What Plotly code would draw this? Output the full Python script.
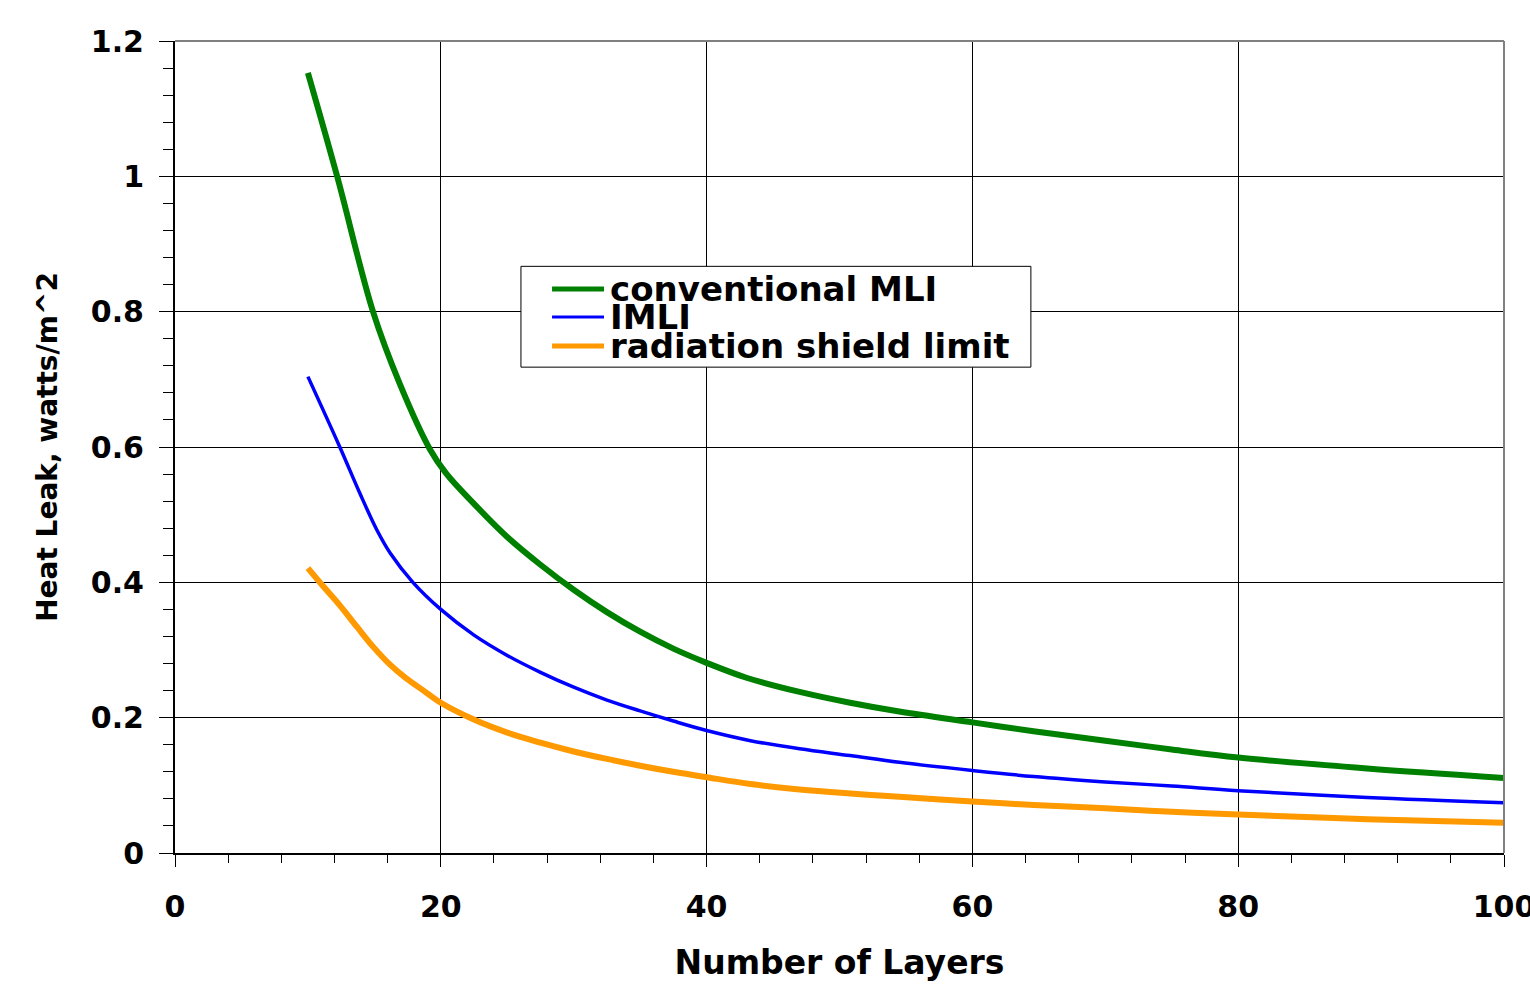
import plotly.graph_objects as go

# ---- data ----
layers_mli = [10, 12.2, 14.9, 16.9, 19.2, 20.4, 22.45, 25, 27.5, 30, 32.5, 35, 37.5, 40, 43, 47,
              50.8, 54.5, 60, 64.6, 70, 75, 80, 89.7, 100]
conventional_mli = [1.153, 1.0, 0.80, 0.694, 0.596, 0.561, 0.517, 0.467, 0.426, 0.389, 0.356, 0.327,
                    0.302, 0.281, 0.259, 0.238, 0.222, 0.209, 0.193, 0.180, 0.166, 0.153, 0.141, 0.125, 0.111]

layers_imli = [10, 12.4, 13.9, 15.2, 16.2, 17.9, 20, 22.5, 25, 27.5, 30, 32.5, 35, 37.5, 40, 43.3,
               47, 50.8, 54.5, 60, 64.6, 70, 75, 80, 89.7, 100]
imli = [0.704, 0.600, 0.532, 0.477, 0.443, 0.400, 0.360, 0.322, 0.292, 0.267, 0.245, 0.226, 0.210,
        0.195, 0.181, 0.166, 0.154, 0.144, 0.134, 0.122, 0.113, 0.105, 0.099, 0.092, 0.082, 0.0743]

layers_rad = [10, 11.2, 12.4, 13.7, 14.9, 16.2, 17.4, 18.7, 20, 22.4, 25, 27.5, 30, 32.5, 35, 37.5, 40,
              43.3, 47, 50.8, 54.5, 60, 64.6, 70, 75, 80, 89.7, 100]
radiation_shield = [0.421, 0.393, 0.366, 0.334, 0.305, 0.278, 0.258, 0.240, 0.222, 0.198, 0.178, 0.163,
                    0.150, 0.139, 0.129, 0.120, 0.112, 0.102, 0.094, 0.088, 0.083, 0.076, 0.071,
                    0.066, 0.061, 0.057, 0.050, 0.0448]

series_names = ["conventional MLI", "IMLI", "radiation shield limit"]
series_colors = ["#008000", "#0000FF", "#FF9900"]
series_widths = [6, 3.5, 6]

x_title = "Number of Layers"
y_title = "Heat Leak, watts/m^2"

FONT = "DejaVu Sans"

fig = go.Figure()
for xs, ys, name, col, w in zip(
    [layers_mli, layers_imli, layers_rad],
    [conventional_mli, imli, radiation_shield],
    series_names, series_colors, series_widths,
):
    fig.add_trace(go.Scatter(
        x=xs, y=ys, mode="lines", name=name,
        line=dict(color=col, width=w, shape="spline", smoothing=1.0),
        showlegend=False,
    ))

# ---- custom legend (box, sample lines, labels) in data coordinates ----
leg_x0, leg_x1 = 26.03, 64.4
leg_y0, leg_y1 = 0.718, 0.867
row_y = [0.8335, 0.7921, 0.7492]
sample_x0, sample_x1 = 28.37, 32.28
text_x = 32.6
leg_widths = [5, 3, 5]

shapes = [dict(type="rect", xref="x", yref="y", x0=leg_x0, x1=leg_x1, y0=leg_y0, y1=leg_y1,
               line=dict(color="black", width=1), fillcolor="white", layer="above")]
annotations = []
for name, col, w, ry in zip(series_names, series_colors, leg_widths, row_y):
    shapes.append(dict(type="line", xref="x", yref="y", x0=sample_x0, x1=sample_x1, y0=ry, y1=ry,
                       line=dict(color=col, width=w), layer="above"))
    annotations.append(dict(x=text_x, y=ry, xref="x", yref="y", text="<b>%s</b>" % name,
                            showarrow=False, xanchor="left", yanchor="middle",
                            font=dict(family=FONT, size=34, color="black")))

# gray frame on top / right
shapes.append(dict(type="line", xref="paper", yref="paper", x0=0, x1=1, y0=1, y1=1,
                   line=dict(color="#808080", width=2), layer="above"))
shapes.append(dict(type="line", xref="paper", yref="paper", x0=1, x1=1, y0=0, y1=1,
                   line=dict(color="#808080", width=2), layer="above"))

fig.update_layout(
    width=1530, height=989,
    margin=dict(l=175, r=26, t=41, b=136),
    paper_bgcolor="white", plot_bgcolor="white",
    shapes=shapes, annotations=annotations,
    showlegend=False,
    font=dict(family=FONT, color="black"),
)

fig.update_xaxes(
    range=[0, 100], tick0=0, dtick=20,
    automargin=False,
    showgrid=True, gridcolor="black", gridwidth=1,
    showline=True, linecolor="black", linewidth=2,
    zeroline=False,
    ticks="outside", ticklen=12, tickwidth=1, tickcolor="black",
    minor=dict(dtick=4, ticks="outside", ticklen=8, tickwidth=1, tickcolor="black", showgrid=False),
    tickfont=dict(family=FONT, size=30, color="black", weight="bold"),
    ticklabelstandoff=14,
    ticklabeloverflow="allow",
    title=dict(text="<b>%s</b>" % x_title, font=dict(family=FONT, size=33, color="black"), standoff=28),
)
fig.update_yaxes(
    range=[0, 1.2], tick0=0, dtick=0.2,
    automargin=False,
    showgrid=True, gridcolor="black", gridwidth=1,
    showline=True, linecolor="black", linewidth=2,
    zeroline=False,
    ticks="outside", ticklen=14, tickwidth=1, tickcolor="black",
    minor=dict(dtick=0.04, ticks="outside", ticklen=10, tickwidth=1, tickcolor="black", showgrid=False),
    tickfont=dict(family=FONT, size=30, color="black", weight="bold"),
    ticklabelstandoff=9,
    title=dict(text="<b>%s</b>" % y_title, font=dict(family=FONT, size=28, color="black"), standoff=25),
)

fig.write_html(
    "out.html",
    config={"displayModeBar": False},
    post_script="document.body.style.margin='0';document.body.style.overflow='hidden';",
)
